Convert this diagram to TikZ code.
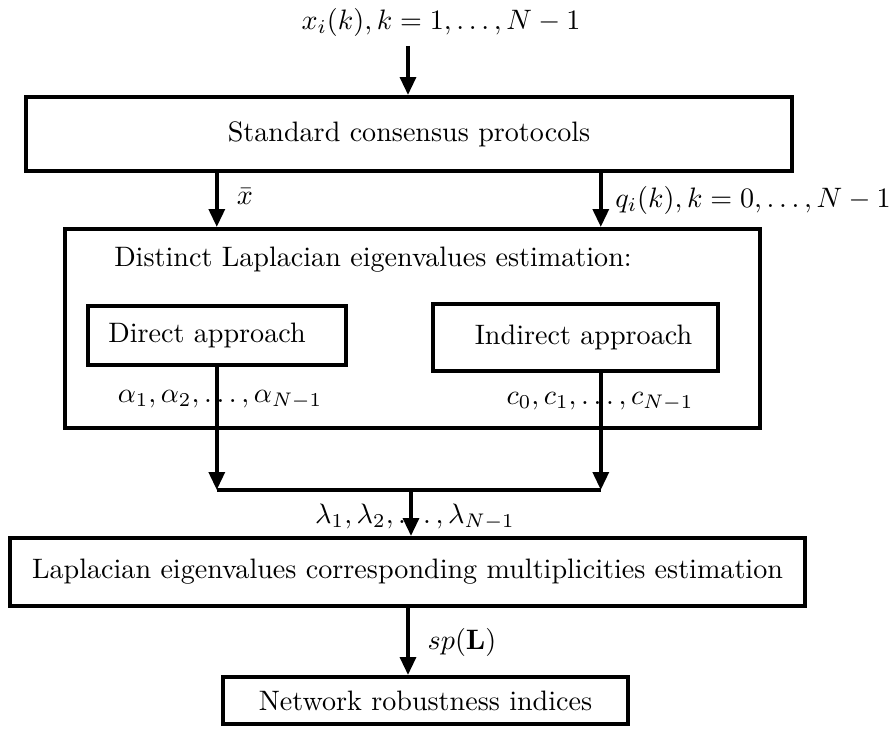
\documentclass[tikz,border=0pt]{standalone}
\usepackage{tikz}
\usetikzlibrary{arrows.meta}
\tikzset{
	blk/.style={draw, line width=1.4pt, inner sep=0pt, align=center},
	arr/.style={line width=1.4pt, -{Triangle[length=6.4pt,width=5.6pt]}},
	wire/.style={line width=1.4pt}
}

\begin{document}
\begin{tikzpicture}
			%%%%% START %%%%%
			
			\useasboundingbox (0, 0) rectangle (11.1875, 9.1125);
			
			\node (xin) at (5.5125, 8.8375) {$x_i(k), k=1,\ldots,N-1$};
			\node[blk, minimum width=9.575cm, minimum height=0.925cm] (cons) at (5.1125, 7.4375) {Standard consensus protocols};
			
			\node[blk, minimum width=8.6875cm, minimum height=2.4875cm] (est) at (5.15625, 5.00625) {};
			\node (esttitle) at (4.6625, 5.8625) {Distinct Laplacian eigenvalues estimation:};
			\node[blk, minimum width=3.225cm, minimum height=0.7375cm] (direct) at (2.7125, 4.91875) {Direct approach\hspace*{0.25cm}};
			\node[blk, minimum width=3.5625cm, minimum height=0.8375cm] (indirect) at (7.19375, 4.89375) {\hspace*{0.2cm}Indirect approach};
			
			\node[blk, minimum width=9.9375cm, minimum height=0.85cm] (mult) at (5.09375, 1.9625) {Laplacian eigenvalues corresponding multiplicities estimation};
			\node[blk, minimum width=5.0625cm, minimum height=0.5875cm] (rob) at (5.31875, 0.35625) {Network robustness indices};
			
			\node (xbar) at (3.0625, 6.65) {$\bar{x}$};
			\node (qin) at (9.4125, 6.6125) {$q_i(k), k=0,\ldots,N-1$};
			\node (alph) at (2.75, 4.1125) {$\alpha_1,\alpha_2,\ldots,\alpha_{N-1}$};
			\node (coef) at (7.5, 4.0875) {$c_0,c_1,\ldots,c_{N-1}$};
			\node (lam) at (5.1875, 2.65) {$\lambda_1,\lambda_2,\ldots,\lambda_{N-1}$};
			\node (spl) at (5.775, 1.0875) {$sp(\mathbf{L})$};
			
			\coordinate (colL) at (2.71, 0);
			\coordinate (colR) at (7.51, 0);
			\coordinate (colM) at (5.1375, 0);
			\coordinate (colS) at (5.1, 0);
			\coordinate (mrgL) at (2.71, 2.9875);
			\coordinate (mrgR) at (7.51, 2.9875);
			\coordinate (mrgM) at (5.1375, 2.9875);
			
			\draw[arr] (xin.south -| colS) -- (cons.north -| colS);
			\draw[arr] (cons.south -| colL) -- (est.north -| colL);
			\draw[arr] (cons.south -| colR) -- (est.north -| colR);
			
			\draw[arr] (direct.south -| colL) -- (mrgL);
			\draw[arr] (indirect.south -| colR) -- (mrgR);
			\draw[wire] (mrgL) -- (mrgR);
			\draw[arr] (mrgM) -- (mult.north -| colM);
			
			\draw[arr] (mult.south -| colS) -- (rob.north -| colS);
			
			%%%%% END %%%%%
\end{tikzpicture}
\end{document}
